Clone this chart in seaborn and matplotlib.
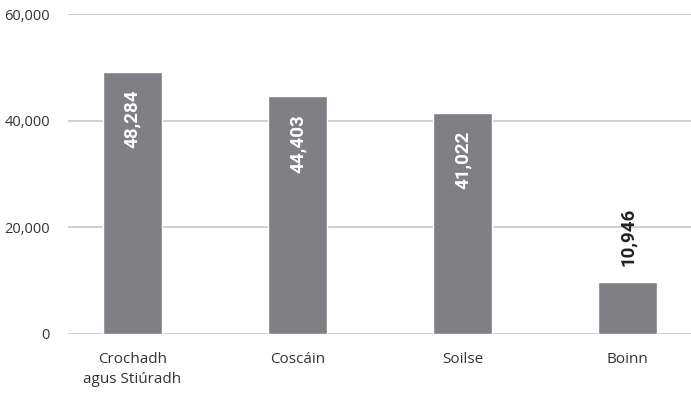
import matplotlib
matplotlib.use("Agg")
import matplotlib.pyplot as plt
import seaborn as sns
import pandas as pd
from matplotlib.ticker import FuncFormatter

categories = ["Crochadh\nagus Stiúradh", "Coscáin", "Soilse", "Boinn"]
values = [49200, 44700, 41500, 9700]
labels = ["48,284", "44,403", "41,022", "10,946"]
yticks = [0, 20000, 40000, 60000]

sns.set_theme(style="white")
plt.rcParams['font.family'] = ['Open Sans', 'DejaVu Sans']

df = pd.DataFrame({"cat": categories, "val": values})

fig = plt.figure(figsize=(6.91, 3.94), dpi=100)
ax = fig.add_axes([0.0984, 0.153, 0.9016, 0.8107])

sns.barplot(data=df, x="cat", y="val", color="#808084", saturation=1,
            width=0.36, ax=ax, zorder=3)

ax.set_ylim(0, 60000)
ax.set_xlim(-0.39, 3.385)
ax.set_yticks(yticks)
ax.yaxis.set_major_formatter(FuncFormatter(lambda v, p: f"{int(v):,}"))
ax.grid(axis="y", color="#c8c8c8", linewidth=1.2, zorder=0)
ax.grid(axis="x", visible=False)
for s in ax.spines.values():
    s.set_visible(False)
ax.set_xlabel("")
ax.set_ylabel("")
ax.tick_params(axis="y", length=0, pad=13, labelsize=10.5, labelcolor="#333333")
ax.tick_params(axis="x", length=0, pad=13, labelsize=11, labelcolor="#333333")
for t in ax.get_xticklabels():
    t.set_linespacing(1.45)

for i, (v, lab) in enumerate(zip(values, labels)):
    if v > 20000:
        ax.annotate(lab, (i, v), xytext=(0, -18), textcoords="offset pixels",
                    rotation=90, ha="center", va="top", color="white",
                    fontweight="bold", fontsize=13.5, family=['Roboto', 'DejaVu Sans'], zorder=4)
    else:
        ax.annotate(lab, (i, v), xytext=(0, 16), textcoords="offset pixels",
                    rotation=90, ha="center", va="bottom", color="#222222",
                    fontweight="bold", fontsize=13.5, family=['Roboto', 'DejaVu Sans'], zorder=4)

fig.savefig("out.png", dpi=100)
